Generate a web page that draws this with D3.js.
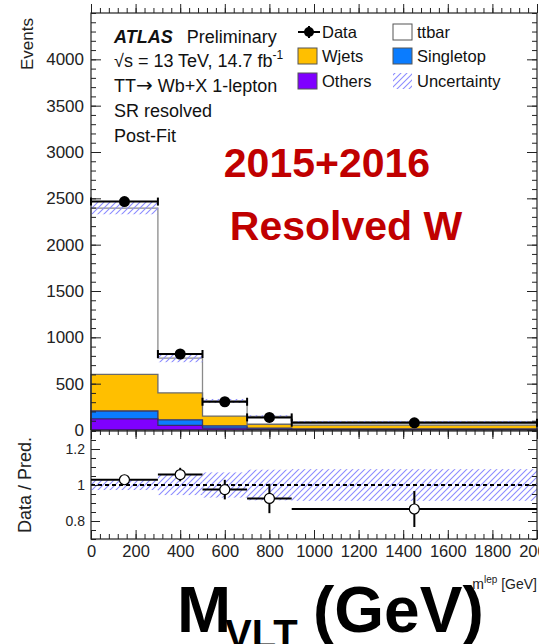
<!DOCTYPE html>
<html><head><meta charset="utf-8">
<script src="https://cdn.jsdelivr.net/npm/d3@7"></script>
<style>
html,body{margin:0;padding:0;background:#fff;}
svg text{font-family:"Liberation Sans",Arial,sans-serif;}
</style></head>
<body><svg id="c" width="539" height="644"></svg>
<script>
// ---- data ----
const binEdges = [0, 300, 500, 700, 900, 2000];
const others    = [120, 50, 20, 8, 4];
const singletop = [85, 60, 25, 12, 8];
const wjets     = [395, 290, 105, 42, 40];
const ttbar     = [1795, 375, 163, 85, 38];
const dataVals  = [2465, 820, 305, 136, 78];
const dataErr   = [50, 29, 17, 12, 9];
const relUnc    = [0.028, 0.056, 0.07, 0.085, 0.088];
const yMainTicks = [0, 500, 1000, 1500, 2000, 2500, 3000, 3500, 4000];
const yRatioTicks = [0.8, 1.0, 1.2];
const xTicks = [0, 200, 400, 600, 800, 1000, 1200, 1400, 1600, 1800, 2000];

const svg = d3.select("#c");
const x = d3.scaleLinear([0, 2000], [91, 537]);
const yM = d3.scaleLinear([0, 4500], [430, 13]);
const yR = d3.scaleLinear([0.7, 1.3], [539, 431]);

// hatch
const defs = svg.append("defs");
const pat = defs.append("pattern").attr("id","hatch").attr("patternUnits","userSpaceOnUse")
  .attr("width",6).attr("height",6);
pat.append("path").attr("d","M-1,1 l2,-2 M0,6 l6,-6 M5,7 l2,-2").attr("stroke","#8c8cff").attr("stroke-width",1.1);

const n = dataVals.length;
const cumOthers = others.slice();
const cumSingle = others.map((v,i)=>v+singletop[i]);
const cumW = cumSingle.map((v,i)=>v+wjets[i]);
const total = cumW.map((v,i)=>v+ttbar[i]);

function stepPts(vals){
  const p = vals.map((v,i)=>[binEdges[i], v]);
  p.push([binEdges[n], vals[n-1]]);
  return p;
}
const area = d3.area().x(d=>x(d[0])).y0(yM(0)).y1(d=>yM(d[1])).curve(d3.curveStepAfter);
const line = d3.line().x(d=>x(d[0])).y(d=>yM(d[1])).curve(d3.curveStepAfter);

const layers = [
  {v: total, fill:"#ffffff", stroke:"#8a8a8a"},
  {v: cumW, fill:"#ffbf00", stroke:"#6b6b6b"},
  {v: cumSingle, fill:"#0a7cff", stroke:"#3a3a6a"},
  {v: cumOthers, fill:"#7f00ff", stroke:"#3a2a6a"}
];
layers.forEach(L=>{
  svg.append("path").attr("d", area(stepPts(L.v))).attr("fill", L.fill);
});
layers.forEach(L=>{
  const pts = stepPts(L.v);
  let d = "M"+x(0)+","+yM(0)+" L"+line(pts).slice(1)+" L"+x(2000)+","+yM(0);
  svg.append("path").attr("d", d).attr("fill","none").attr("stroke",L.stroke).attr("stroke-width",1.3);
});
// uncertainty band main
for(let i=0;i<n;i++){
  const t = total[i], u = t*relUnc[i];
  svg.append("rect").attr("x",x(binEdges[i])).attr("width",x(binEdges[i+1])-x(binEdges[i]))
    .attr("y",yM(t+u)).attr("height",yM(t-u)-yM(t+u)).attr("fill","url(#hatch)");
}

function mkAxis(gen, scale, vals, size, tx, ty, labels, fs){
  const ax = gen(scale).tickValues(vals).tickSizeInner(size).tickSizeOuter(0)
    .tickPadding(labels?6:0).tickFormat(labels? labels : ()=> "");
  const g = svg.append("g").attr("transform",`translate(${tx},${ty})`).call(ax);
  g.select(".domain").remove();
  g.selectAll("line").attr("stroke","#222").attr("stroke-width",1);
  g.selectAll("text").attr("font-size",fs||16).attr("fill","#222");
  return g;
}
const minor = (a,b,s)=>d3.range(a,b+1e-9,s);
mkAxis(d3.axisLeft, yM, yMainTicks, -10, 91, 0, d=>d, 17).selectAll("text").attr("dx","-1");
mkAxis(d3.axisLeft, yM, minor(0,4500,100), -5, 91, 0);
mkAxis(d3.axisRight, yM, yMainTicks, -10, 537, 0);
mkAxis(d3.axisRight, yM, minor(0,4500,100), -5, 537, 0);
mkAxis(d3.axisBottom, x, xTicks, -9, 0, 13);
mkAxis(d3.axisBottom, x, minor(0,2000,40), -5, 0, 13);
mkAxis(d3.axisTop, x, xTicks, -9, 0, 430);
mkAxis(d3.axisTop, x, minor(0,2000,40), -5, 0, 430);
svg.append("rect").attr("x",91).attr("y",13).attr("width",446).attr("height",417)
  .attr("fill","none").attr("stroke","#222").attr("stroke-width",1.2);

// data points main
const dg = svg.append("g");
for(let i=0;i<n;i++){
  const cx = x((binEdges[i]+binEdges[i+1])/2), cy = yM(dataVals[i]);
  const xl = x(binEdges[i]), xr = x(binEdges[i+1]);
  dg.append("line").attr("x1",xl).attr("x2",xr).attr("y1",cy).attr("y2",cy).attr("stroke","#000").attr("stroke-width",2);
  [xl,xr].forEach(xx=>dg.append("line").attr("x1",xx).attr("x2",xx).attr("y1",cy-4).attr("y2",cy+4).attr("stroke","#000").attr("stroke-width",2));
  dg.append("line").attr("x1",cx).attr("x2",cx).attr("y1",yM(dataVals[i]+dataErr[i])).attr("y2",yM(dataVals[i]-dataErr[i])).attr("stroke","#000").attr("stroke-width",2);
  dg.append("circle").attr("cx",cx).attr("cy",cy).attr("r",5.5).attr("fill","#000");
}

// ---- ratio panel ----
for(let i=0;i<n;i++){
  svg.append("rect").attr("x",x(binEdges[i])).attr("width",x(binEdges[i+1])-x(binEdges[i]))
    .attr("y",yR(1+relUnc[i])).attr("height",yR(1-relUnc[i])-yR(1+relUnc[i])).attr("fill","url(#hatch)");
}
svg.append("line").attr("x1",x(0)).attr("x2",x(2000)).attr("y1",yR(1)).attr("y2",yR(1))
  .attr("stroke","#000").attr("stroke-width",2).attr("stroke-dasharray","4,3");
mkAxis(d3.axisLeft, yR, yRatioTicks, -9, 91, 0, d=>d3.format("~g")(d), 14);
mkAxis(d3.axisLeft, yR, minor(0.7,1.3,0.05), -5, 91, 0);
mkAxis(d3.axisRight, yR, yRatioTicks, -9, 537, 0);
mkAxis(d3.axisRight, yR, minor(0.7,1.3,0.05), -5, 537, 0);
mkAxis(d3.axisBottom, x, xTicks, -9, 0, 539, d=>d, 16.5);
mkAxis(d3.axisBottom, x, minor(0,2000,40), -5, 0, 539);
mkAxis(d3.axisTop, x, xTicks, -6, 0, 431);
svg.append("rect").attr("x",91).attr("y",431).attr("width",446).attr("height",108)
  .attr("fill","none").attr("stroke","#222").attr("stroke-width",1.2);
const rg = svg.append("g");
for(let i=0;i<n;i++){
  const r = dataVals[i]/total[i], re = dataErr[i]/total[i];
  const cx = x((binEdges[i]+binEdges[i+1])/2), cy = yR(r);
  rg.append("line").attr("x1",x(binEdges[i])).attr("x2",x(binEdges[i+1])).attr("y1",cy).attr("y2",cy).attr("stroke","#000").attr("stroke-width",2);
  rg.append("line").attr("x1",cx).attr("x2",cx).attr("y1",yR(r+re)).attr("y2",yR(r-re)).attr("stroke","#000").attr("stroke-width",2);
  rg.append("circle").attr("cx",cx).attr("cy",cy).attr("r",5).attr("fill","#fff").attr("stroke","#000").attr("stroke-width",1.2);
}

// axis titles
svg.append("text").attr("transform","translate(33,18) rotate(-90)").attr("text-anchor","end")
  .attr("font-size",17).attr("fill","#222").text("Events");
svg.append("text").attr("transform","translate(31,485) rotate(-90)").attr("text-anchor","middle")
  .attr("font-size",18).attr("fill","#222").text("Data / Pred.");
const xl = svg.append("text").attr("x",537).attr("y",589).attr("text-anchor","end").attr("font-size",14).attr("fill","#222");
xl.append("tspan").text("m");
xl.append("tspan").attr("font-size",10).attr("dy",-6).text("lep");
xl.append("tspan").attr("dy",6).text(" [GeV]");

// ATLAS labels
const lx = 114, lfs = 18;
const t1 = svg.append("text").attr("x",lx).attr("y",43).attr("font-size",lfs).attr("fill","#111");
t1.append("tspan").attr("font-weight","bold").attr("font-style","italic").text("ATLAS");
t1.append("tspan").attr("dx",14).text("Preliminary");
const t2 = svg.append("text").attr("x",lx).attr("y",67).attr("font-size",lfs).attr("fill","#111");
t2.append("tspan").text("\u221As = 13 TeV, 14.7 fb");
t2.append("tspan").attr("font-size",12).attr("dy",-8).text("-1");
const t3 = svg.append("text").attr("x",lx).attr("y",92).attr("font-size",lfs).attr("fill","#111");
t3.append("tspan").text("TT");
t3.append("tspan").attr("font-family","DejaVu Sans").attr("font-size",20).text("\u2192");
t3.append("tspan").text(" Wb+X 1-lepton");
svg.append("text").attr("x",lx).attr("y",117).attr("font-size",lfs).attr("fill","#111").text("SR resolved");
svg.append("text").attr("x",lx).attr("y",142).attr("font-size",lfs).attr("fill","#111").text("Post-Fit");

// legend
const lg = svg.append("g");
lg.append("line").attr("x1",298).attr("x2",320).attr("y1",32).attr("y2",32).attr("stroke","#000").attr("stroke-width",2);
lg.append("line").attr("x1",309).attr("x2",309).attr("y1",26).attr("y2",38).attr("stroke","#000").attr("stroke-width",2);
lg.append("circle").attr("cx",309).attr("cy",32).attr("r",5).attr("fill","#000");
const legItems = [
  {x:298,y:48,fill:"#ffbf00",stroke:"#555",label:"Wjets"},
  {x:298,y:73,fill:"#7f00ff",stroke:"#555",label:"Others"},
  {x:393,y:24,fill:"#fff",stroke:"#555",label:"ttbar"},
  {x:393,y:48,fill:"#0a7cff",stroke:"#555",label:"Singletop"},
  {x:393,y:73,fill:"url(#hatch)",stroke:"none",label:"Uncertainty"}
];
lg.append("text").attr("x",322).attr("y",38).attr("font-size",16.5).attr("fill","#111").text("Data");
legItems.forEach(d=>{
  lg.append("rect").attr("x",d.x).attr("y",d.y).attr("width",19).attr("height",16).attr("fill",d.fill).attr("stroke",d.stroke).attr("stroke-width",1);
  lg.append("text").attr("x",d.x+24).attr("y",d.y+14).attr("font-size",16.5).attr("fill","#111").text(d.label);
});

// red overlay
svg.append("text").attr("x",327).attr("y",177).attr("text-anchor","middle").attr("font-size",41)
  .attr("font-weight","bold").attr("fill","#c00000").text("2015+2016");
svg.append("text").attr("x",346).attr("y",240).attr("text-anchor","middle").attr("font-size",41)
  .attr("font-weight","bold").attr("fill","#c00000").text("Resolved W");

// big overlay x title
const big = svg.append("text").attr("font-weight","bold").attr("fill","#000");
big.append("tspan").attr("x",177).attr("y",632).attr("font-size",65).text("M");
big.append("tspan").attr("x",225).attr("y",648).attr("font-size",40).text("VLT");
big.append("tspan").attr("x",313).attr("y",632).attr("font-size",64).text("(GeV)");
</script></body></html>
